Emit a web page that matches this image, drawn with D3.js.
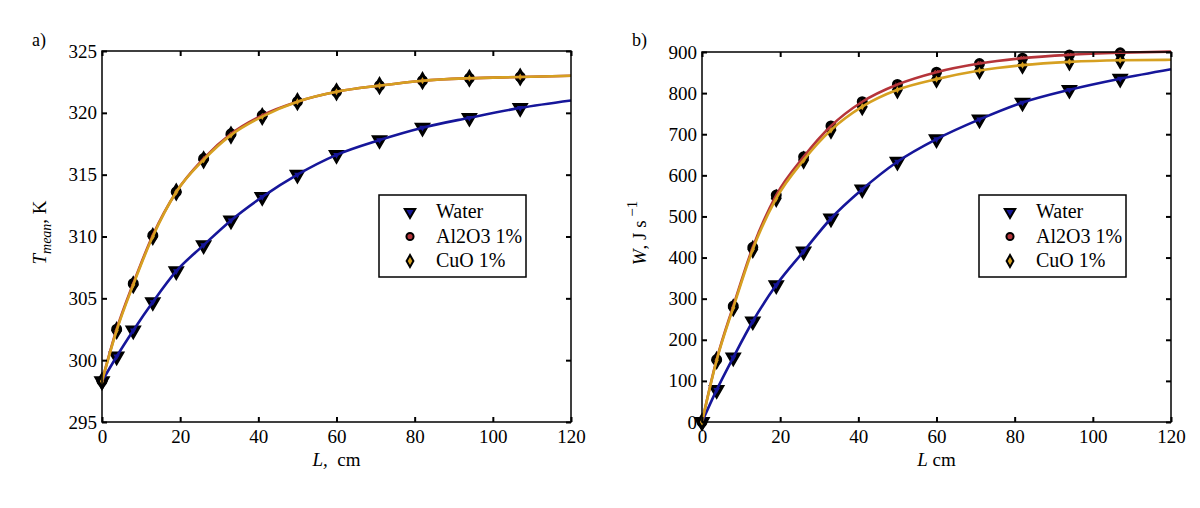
<!DOCTYPE html>
<html><head><meta charset="utf-8">
<script src="https://cdn.jsdelivr.net/npm/d3@7"></script>
<style>body{margin:0;background:#fff}svg{display:block}</style>
</head><body>
<svg id="chart" width="1200" height="508"></svg>
<script>
// ---- data ----
const lengths = [0, 3.75, 8, 13, 19, 26, 33, 41, 50, 60, 71, 82, 94, 107, 120]; // last point: curve end only
const seriesNames = ["Water", "Al2O3 1%", "CuO 1%"];
const xTicks = [0, 20, 40, 60, 80, 100, 120];
const tTicks = [295, 300, 305, 310, 315, 320, 325];
const wTicks = [0, 100, 200, 300, 400, 500, 600, 700, 800, 900];

const tWater = [298.3, 300.3, 302.4, 304.7, 307.2, 309.3, 311.3, 313.2, 315.0, 316.6, 317.8, 318.8, 319.6, 320.4, 321.0];
const tAl2O3 = [298.3, 302.5, 306.2, 310.1, 313.6, 316.3, 318.3, 319.8, 320.9, 321.7, 322.2, 322.6, 322.8, 322.9, 323.0];
const tCuO   = [298.3, 302.4, 306.1, 310.0, 313.6, 316.2, 318.2, 319.7, 320.9, 321.7, 322.2, 322.6, 322.8, 322.9, 323.0];

const wWater = [0, 78, 157, 245, 333, 415, 495, 566, 633, 688, 736, 777, 808, 835, 858];
const wAl2O3 = [0, 152, 282, 425, 552, 645, 720, 779, 821, 851, 872, 885, 893, 898, 901];
const wCuO   = [0, 150, 278, 420, 544, 637, 710, 767, 808, 834, 855, 868, 876, 880, 881];

// ---- styles ----
const colors = ["#16169a", "#b5343a", "#d6a021"];
const symbols = [d3.symbolTriangle, d3.symbolCircle, d3.symbolDiamond];
const symRot = [180, 0, 0];
const symSize = [60, 50, 50];
const FS = 19;
const FONT = "Liberation Serif";

const svg = d3.select("#chart");

function panel(opts) {
  const {left, right, top, bottom, yDomain, yTicks, values, tag, tagX, ylabel, xlabel, legendX} = opts;
  const g = svg.append("g");
  const x = d3.scaleLinear().domain([0, 120]).range([left, right]);
  const y = d3.scaleLinear().domain(yDomain).range([bottom, top]);

  // markers (all points except the curve end)
  values.forEach((vals, si) => {
    const pts = lengths.map((L, i) => [L, vals[i]]).slice(0, -1);
    g.selectAll(null).data(pts).enter().append("path")
      .attr("d", d3.symbol().type(symbols[si]).size(symSize[si]))
      .attr("transform", d => `translate(${x(d[0])},${y(d[1])}) rotate(${symRot[si]})`)
      .attr("fill", colors[si]).attr("stroke", "#000").attr("stroke-width", 3);
  });
  // fitted curves
  const line = d3.line().x(d => x(d[0])).y(d => y(d[1])).curve(d3.curveMonotoneX);
  values.forEach((vals, si) => {
    g.append("path").datum(lengths.map((L, i) => [L, vals[i]]))
      .attr("d", line).attr("fill", "none")
      .attr("stroke", colors[si]).attr("stroke-width", 2.6);
  });

  // axes box with inward ticks
  const tl = 5;
  const ax = g.append("g");
  ax.append("rect").attr("x", left).attr("y", top).attr("width", right - left).attr("height", bottom - top)
    .attr("fill", "none").attr("stroke", "#000").attr("stroke-width", 1.5);
  const xAxisB = d3.axisBottom(x).tickValues(xTicks).tickSize(-tl).tickPadding(8).tickFormat(d3.format("d"));
  const xAxisT = d3.axisTop(x).tickValues(xTicks).tickSize(-tl).tickFormat("");
  const yAxisL = d3.axisLeft(y).tickValues(yTicks).tickSize(-tl).tickPadding(5).tickFormat(d3.format("d"));
  const yAxisR = d3.axisRight(y).tickValues(yTicks).tickSize(-tl).tickFormat("");
  [[xAxisB, `translate(0,${bottom})`], [xAxisT, `translate(0,${top})`],
   [yAxisL, `translate(${left},0)`], [yAxisR, `translate(${right},0)`]].forEach(([a, t]) => {
    const s = ax.append("g").attr("transform", t).call(a);
    s.select(".domain").remove();
    s.selectAll("line").attr("stroke", "#000").attr("stroke-width", 2);
    s.selectAll("text").attr("font-size", FS).attr("fill", "#000");
  });

  // panel tag
  g.append("text").attr("x", tagX).attr("y", 46).attr("font-size", 18).text(tag);

  // y label
  const yl = g.append("text").attr("transform", `translate(${left - 56},${(top + bottom) / 2 - 4}) rotate(-90)`)
    .attr("text-anchor", "middle").attr("font-size", FS);
  ylabel(yl);
  // x label
  const xl = g.append("text").attr("x", (left + right) / 2).attr("y", bottom + 44)
    .attr("text-anchor", "middle").attr("font-size", FS);
  xlabel(xl);

  // legend
  const lg = g.append("g").attr("transform", `translate(${legendX},195)`);
  lg.append("rect").attr("width", 147).attr("height", 82).attr("fill", "#fff").attr("stroke", "#000").attr("stroke-width", 1.5);
  seriesNames.forEach((n, si) => {
    const cy = 17 + si * 24.5;
    lg.append("path").attr("d", d3.symbol().type(symbols[si]).size(symSize[si] * 0.8))
      .attr("transform", `translate(31,${cy}) rotate(${symRot[si]})`)
      .attr("fill", colors[si]).attr("stroke", "#000").attr("stroke-width", 2);
    lg.append("text").attr("x", 57).attr("y", cy + 6).attr("font-size", 20).text(n);
  });
}

panel({
  left: 102, right: 571, top: 51, bottom: 422,
  yDomain: [295, 325], yTicks: tTicks, values: [tWater, tAl2O3, tCuO],
  tag: "a)", tagX: 32, legendX: 379,
  ylabel: t => {
    t.append("tspan").attr("font-style", "italic").text("T");
    t.append("tspan").attr("font-style", "italic").attr("font-size", 14).attr("dy", 5).text("mean");
    t.append("tspan").attr("dy", -5).text(", K");
  },
  xlabel: t => {
    t.append("tspan").attr("font-style", "italic").text("L,");
    t.append("tspan").text("\u00a0 cm");
  }
});

panel({
  left: 702, right: 1171, top: 52, bottom: 422,
  yDomain: [0, 900], yTicks: wTicks, values: [wWater, wAl2O3, wCuO],
  tag: "b)", tagX: 632, legendX: 979,
  ylabel: t => {
    t.append("tspan").attr("font-style", "italic").text("W");
    t.append("tspan").text(", J s");
    t.append("tspan").attr("font-size", 15).attr("dy", -9).text(" \u22121");
  },
  xlabel: t => {
    t.append("tspan").attr("font-style", "italic").text("L");
    t.append("tspan").text(" cm");
  }
});

// serif font on every text (inline style overrides axis font attributes)
svg.selectAll("text").style("font-family", FONT);
</script>
</body></html>
